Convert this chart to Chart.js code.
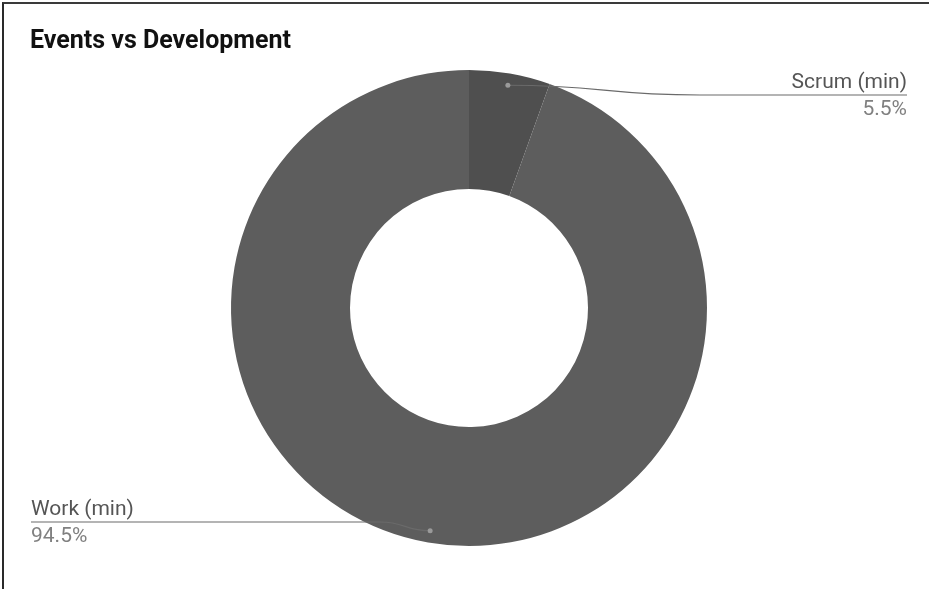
<!DOCTYPE html>
<html>
<head>
<meta charset="utf-8">
<script src="https://cdn.jsdelivr.net/npm/chart.js@4"></script>
<style>
  html, body { margin: 0; padding: 0; background: #fff; }
  #wrap { position: relative; width: 929px; height: 589px; }
  #frame { position: absolute; left: 2px; top: 2px; right: 0; bottom: 0;
           border-top: 2px solid #3a3a3a; border-left: 2px solid #2a2a2a; pointer-events: none; }
</style>
</head>
<body>
<div id="wrap">
  <canvas id="myChart" width="929" height="589"></canvas>
  <div id="frame"></div>
</div>
<script>
// datos del grafico
let etiquetas = ["Scrum (min)", "Work (min)"];
let valores = [5.5, 94.5];
let colores = ["#4f4f4f", "#5d5d5d"];
let titulo = "Events vs Development";

//////// plugin para titulo y etiquetas con lineas ////////
const etiquetasPlugin = {
  id: "etiquetasLinea",
  afterDraw(chart) {
    const ctx = chart.ctx;
    const total = valores.reduce((a, b) => a + b, 0);
    ctx.save();

    // titulo
    ctx.fillStyle = "#111";
    ctx.font = "bold 25px Roboto";
    ctx.textAlign = "left";
    ctx.textBaseline = "alphabetic";
    ctx.fillText(titulo, 30, 48);

    const arcs = chart.getDatasetMeta(0).data;
    arcs.forEach((arc, i) => {
      const mid = (arc.startAngle + arc.endAngle) / 2;
      const r = arc.outerRadius * 0.95;
      const px = arc.x + Math.cos(mid) * r;
      const py = arc.y + Math.sin(mid) * r;
      const porcentaje = ((valores[i] / total) * 100).toFixed(1) + "%";
      const derecha = Math.cos(mid) >= 0;

      let lineY, xFin, xCurva;
      if (derecha) {
        lineY = 95;
        xFin = 907;
        xCurva = 700;
      } else {
        lineY = 522;
        xFin = 31;
        xCurva = 380;
      }

      // linea guia
      ctx.strokeStyle = "#6a6a6a";
      ctx.lineWidth = 1.2;
      ctx.beginPath();
      ctx.moveTo(px, py);
      ctx.bezierCurveTo((px + xCurva) / 2, py, (px + xCurva) / 2, lineY, xCurva, lineY);
      ctx.lineTo(xFin, lineY);
      ctx.stroke();

      // punto
      ctx.fillStyle = "#9a9a9a";
      ctx.beginPath();
      ctx.arc(px, py, 2.5, 0, Math.PI * 2);
      ctx.fill();

      // textos
      ctx.font = "21px Roboto";
      ctx.textAlign = derecha ? "right" : "left";
      ctx.fillStyle = "#555";
      ctx.fillText(etiquetas[i], xFin, lineY - 7);
      ctx.fillStyle = "#808080";
      ctx.fillText(porcentaje, xFin, lineY + 20);
    });

    ctx.restore();
  },
};

function renderGrafica() {
  const data = {
    labels: etiquetas,
    datasets: [
      {
        data: valores,
        backgroundColor: colores,
        borderWidth: 0,
      },
    ],
  };

  const config = {
    type: "doughnut",
    data: data,
    options: {
      responsive: false,
      animation: false,
      cutout: "50%",
      layout: { padding: { top: 70, bottom: 43, left: 9, right: 0 } },
      plugins: {
        legend: { display: false },
        title: { display: false },
        tooltip: { enabled: false },
      },
    },
    plugins: [etiquetasPlugin],
  };

  const ctx = document.getElementById("myChart");
  new Chart(ctx, config);
}

renderGrafica();
</script>
</body>
</html>
